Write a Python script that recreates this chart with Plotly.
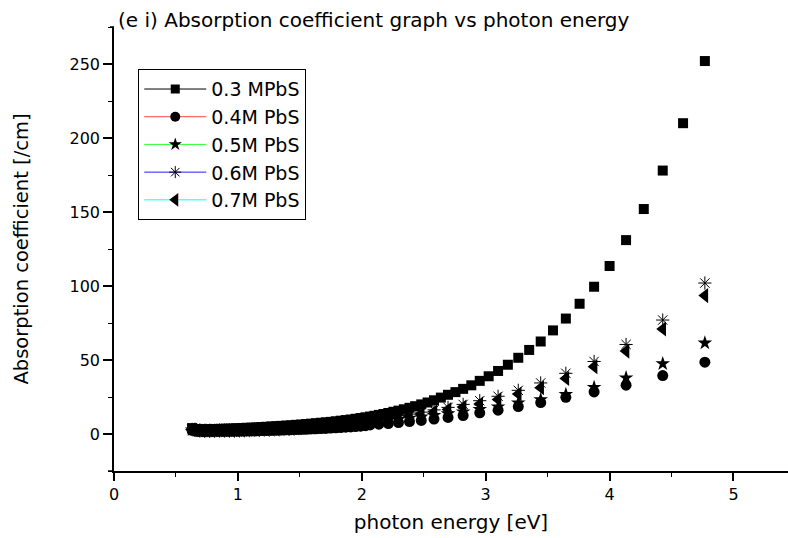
import plotly.graph_objects as go

# ---------------- data ----------------
series_names = ["0.3 MPbS", "0.4M PbS", "0.5M PbS", "0.6M PbS", "0.7M PbS"]
legend_line_colors = ["#000000", "#ff4040", "#30ff30", "#2020ff", "#00ffff"]
marker_symbols = ["square", "circle", "star", "asterisk-open", "triangle-left"]

# photon energies of the densely sampled low-energy part (shared by all series)
energy_low = [2.03, 1.99, 1.95, 1.91, 1.87, 1.83, 1.79, 1.75, 1.71, 1.67, 1.63, 1.59,
              1.55, 1.51, 1.47, 1.43, 1.39, 1.35, 1.31, 1.27, 1.23, 1.19, 1.15, 1.11,
              1.07, 1.03, 0.99, 0.95, 0.91, 0.87, 0.83, 0.79, 0.75, 0.71, 0.67, 0.63]

# 0.3 M : high-energy part sampled more finely
energy_03_high = [4.769, 4.593, 4.429, 4.276, 4.133, 4.000, 3.875, 3.758, 3.647, 3.543,
                  3.444, 3.351, 3.263, 3.179, 3.100, 3.024, 2.952, 2.884, 2.818, 2.756,
                  2.696, 2.638, 2.583, 2.531, 2.480, 2.431, 2.385, 2.340, 2.296, 2.255,
                  2.214, 2.175, 2.138, 2.102, 2.067]
alpha_03_high = [252, 210, 178, 152, 131, 113.5, 99.5, 88, 78, 70,
                 62.5, 56.8, 51.5, 46.8, 42.6, 39, 35.9, 32.9, 30.5, 28.3,
                 26.5, 24.6, 22.8, 21.3, 20.0, 18.8, 17.7, 16.7, 15.8, 15.0,
                 14.2, 13.5, 12.9, 12.3, 11.8]
alpha_03_low = [11.3, 10.8, 10.3, 9.8, 9.4, 9.0, 8.6, 8.2, 7.9, 7.6, 7.3, 7.0,
                6.7, 6.4, 6.2, 5.9, 5.7, 5.5, 5.3, 5.1, 4.9, 4.7, 4.5, 4.3,
                4.2, 4.0, 3.9, 3.7, 3.6, 3.5, 3.4, 3.3, 3.2, 3.2, 3.3, 4.0]

# 0.4 - 0.7 M : high-energy part
energy_other_high = [4.769, 4.429, 4.133, 3.875, 3.647, 3.444, 3.263, 3.100, 2.952,
                     2.818, 2.696, 2.583, 2.480, 2.385, 2.296, 2.214, 2.138, 2.067]

alpha_04_high = [48.5, 39.5, 33, 28.4, 24.8, 21.2, 18.5, 16.1, 14.3,
                 12.5, 11.2, 10.1, 9.2, 8.4, 7.7, 7.1, 6.6, 6.1]
alpha_04_low = [5.6, 5.3, 5.0, 4.8, 4.6, 4.4, 4.2, 4.0, 3.8, 3.7, 3.5, 3.4,
                3.2, 3.1, 3.0, 2.9, 2.8, 2.7, 2.6, 2.5, 2.4, 2.3, 2.2, 2.1,
                2.1, 2.0, 1.9, 1.9, 1.8, 1.8, 1.7, 1.7, 1.7, 1.7, 1.8, 2.5]

alpha_05_high = [61.5, 47.5, 38, 31.5, 26.8, 23.3, 21.0, 18.3, 16.6,
                 15.0, 13.7, 12.6, 11.6, 10.7, 9.9, 9.2, 8.6, 8.0]
alpha_05_low = [7.5, 7.0, 6.6, 6.2, 5.9, 5.6, 5.3, 5.0, 4.8, 4.6, 4.4, 4.2,
                4.0, 3.8, 3.6, 3.5, 3.3, 3.2, 3.1, 3.0, 2.9, 2.8, 2.7, 2.6,
                2.5, 2.4, 2.3, 2.3, 2.2, 2.2, 2.1, 2.1, 2.0, 2.0, 2.1, 2.8]

alpha_06_high = [102, 77, 60.5, 49, 41, 34.5, 29.5, 25.5, 22.5,
                 20.0, 18.0, 16.3, 14.8, 13.5, 12.3, 11.3, 10.4, 9.6]
alpha_06_low = [9.0, 8.5, 8.0, 7.5, 7.1, 6.7, 6.3, 6.0, 5.7, 5.4, 5.1, 4.9,
                4.6, 4.4, 4.2, 4.0, 3.8, 3.7, 3.5, 3.4, 3.2, 3.1, 3.0, 2.9,
                2.8, 2.7, 2.6, 2.5, 2.5, 2.4, 2.4, 2.3, 2.3, 2.3, 2.4, 3.0]

alpha_07_high = [93.5, 71, 56, 45.5, 37.5, 31.3, 27.0, 23.3, 20.3,
                 18.3, 16.5, 15.0, 13.7, 12.5, 11.4, 10.5, 9.7, 9.0]
alpha_07_low = [8.5, 8.0, 7.5, 7.1, 6.7, 6.3, 6.0, 5.7, 5.4, 5.1, 4.9, 4.6,
                4.4, 4.2, 4.0, 3.8, 3.6, 3.5, 3.3, 3.2, 3.1, 3.0, 2.9, 2.8,
                2.7, 2.6, 2.5, 2.4, 2.4, 2.3, 2.3, 2.2, 2.2, 2.2, 2.3, 2.9]

x_ticks = [0, 1, 2, 3, 4, 5]
y_ticks = [0, 50, 100, 150, 200, 250]

# ---------------- figure ----------------
series_x = [energy_03_high + energy_low] + [energy_other_high + energy_low] * 4
series_y = [alpha_03_high + alpha_03_low,
            alpha_04_high + alpha_04_low,
            alpha_05_high + alpha_05_low,
            alpha_06_high + alpha_06_low,
            alpha_07_high + alpha_07_low]
marker_sizes = [10, 11, 11, 11, 13]

def marker_style(i, size):
    return dict(symbol=marker_symbols[i], size=size, color="black",
                line=dict(color="black",
                          width=1 if marker_symbols[i] == "asterisk-open" else 0))

fig = go.Figure()
# draw in reverse order so the 0.3M squares sit on top like in the original
for i in reversed(range(5)):
    fig.add_trace(go.Scatter(
        x=series_x[i], y=series_y[i], mode="markers", showlegend=False,
        marker=marker_style(i, marker_sizes[i]),
    ))
# legend entries: coloured line with black symbol
for i in range(5):
    fig.add_trace(go.Scatter(
        x=[None], y=[None], mode="lines+markers", name=series_names[i],
        line=dict(color=legend_line_colors[i], width=1),
        marker=marker_style(i, marker_sizes[i] - 1),
    ))

font_wide = "DejaVu Sans, Verdana, sans-serif"

fig.update_layout(
    width=788, height=538,
    margin=dict(l=114, r=0, t=27, b=67),
    paper_bgcolor="white", plot_bgcolor="white",
    title=dict(text="(e i) Absorption coefficient graph vs photon energy",
               x=0.006, xref="paper", xanchor="left",
               y=1 - 20 / 538, yref="container", yanchor="middle",
               font=dict(family=font_wide, size=20, color="black")),
    legend=dict(x=0.036, y=0.905, xanchor="left", yanchor="top",
                bordercolor="black", borderwidth=1, bgcolor="white",
                font=dict(family=font_wide, size=19, color="black"),
                tracegroupgap=0, itemsizing="trace", itemwidth=62),
    showlegend=True,
)

fig.update_xaxes(
    range=[0, 5.44], tickvals=x_ticks, ticktext=[str(v) for v in x_ticks],
    showline=True, linecolor="black", linewidth=1.5, mirror=False,
    ticks="outside", ticklen=8, tickwidth=1.5, tickcolor="black",
    minor=dict(dtick=0.5, tick0=0, ticks="outside", ticklen=4, tickwidth=1,
               tickcolor="black", showgrid=False),
    showgrid=False, zeroline=False,
    tickfont=dict(family=font_wide, size=16, color="black"),
    title=dict(text="photon energy [eV]", standoff=12,
               font=dict(family=font_wide, size=20, color="black")),
)
fig.update_yaxes(
    range=[-25, 275], tickvals=y_ticks, ticktext=[str(v) for v in y_ticks],
    showline=True, linecolor="black", linewidth=1.5, mirror=False,
    ticks="outside", ticklen=9, tickwidth=1.5, tickcolor="black",
    minor=dict(dtick=25, tick0=0, ticks="outside", ticklen=4, tickwidth=1,
               tickcolor="black", showgrid=False),
    showgrid=False, zeroline=False,
    tickfont=dict(family=font_wide, size=16, color="black"),
    title=dict(text="Absorption coefficient [/cm]", standoff=36,
               font=dict(family=font_wide, size=19.5, color="black")),
)

# small axis-end strokes of the original frame
fig.add_shape(type="line", xref="paper", yref="paper", x0=-6 / 674, x1=0, y0=0, y1=0,
              line=dict(color="black", width=1.5))
fig.add_shape(type="line", xref="paper", yref="paper", x0=-4 / 674, x1=0, y0=1, y1=1,
              line=dict(color="black", width=1.5))

fig.write_html("out.html")
